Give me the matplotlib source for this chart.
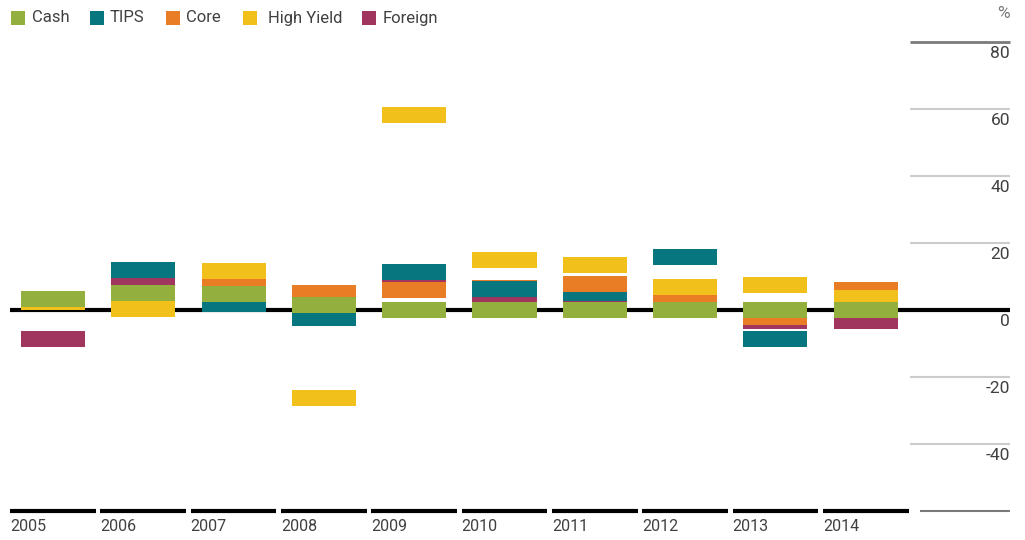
import matplotlib.pyplot as plt
from matplotlib.patches import Rectangle
from matplotlib.transforms import blended_transform_factory

plt.rcParams['font.family'] = ['Roboto', 'DejaVu Sans']

years = ['2005', '2006', '2007', '2008', '2009', '2010', '2011', '2012', '2013', '2014']
series = ['Cash', 'TIPS', 'Core', 'High Yield', 'Foreign']
colors = {'Cash': '#93b03f', 'TIPS': '#08767f', 'Core': '#e87d26',
          'High Yield': '#f2c01b', 'Foreign': '#a0365e'}

# box centres (%)
cash       = [3.3, 5.1, 4.8, 1.5, 0.0, 0.0, 0.0, 0.0, 0.0, 0.0]
tips       = [2.8, 11.9, 1.8, -2.4, 11.3, 6.4, 5.1, 15.8, -8.7, 1.5]
core       = [2.5, 4.2, 8.2, 5.1, 6.0, 6.7, 7.8, 4.8, -2.1, 6.0]
high_yield = [2.4, 0.3, 11.6, -26.3, 58.2, 14.9, 13.4, 6.9, 7.5, 3.6]
foreign    = [-8.7, 8.5, 6.0, 0.6, 6.6, 1.6, 2.4, 2.1, -3.3, -3.3]

# which box sits on top of which, bottom to top, per year
layers = [
    ['Foreign', 'TIPS', 'Core', 'High Yield', 'Cash'],
    ['Core', 'Foreign', 'TIPS', 'Cash', 'High Yield'],
    ['Foreign', 'Core', 'TIPS', 'High Yield', 'Cash'],
    ['Foreign', 'Core', 'TIPS', 'Cash', 'High Yield'],
    ['Foreign', 'TIPS', 'Core', 'Cash', 'High Yield'],
    ['Core', 'Foreign', 'TIPS', 'Cash', 'High Yield'],
    ['Foreign', 'TIPS', 'Core', 'Cash', 'High Yield'],
    ['Foreign', 'Core', 'High Yield', 'Cash', 'TIPS'],
    ['Foreign', 'Core', 'Cash', 'High Yield', 'TIPS'],
    ['TIPS', 'Core', 'Foreign', 'High Yield', 'Cash'],
]

values = {'Cash': cash, 'TIPS': tips, 'Core': core,
          'High Yield': high_yield, 'Foreign': foreign}
yticks = [80, 60, 40, 20, 0, -20, -40]
box_h = 4.8

W, H = 1025, 540
fig = plt.figure(figsize=(W / 100, H / 100), dpi=100)
ax = fig.add_axes([0, 0, 1, 1])
step = 90.3
ax.set_xlim(-53 / step, (W - 53) / step)
ax.set_ylim(-230 / 3.35, 310 / 3.35)
ax.axis('off')

# boxes
for i, order in enumerate(layers):
    for z, name in enumerate(order):
        v = values[name][i]
        ax.bar(i, box_h, bottom=v - box_h / 2, width=0.71,
               color=colors[name], zorder=3 + z, linewidth=0)

trans = blended_transform_factory(ax.transAxes, ax.transData)
x0, x1 = 10 / W, 1010 / W

# zero line
ax.plot([x0, x1], [0, 0], transform=trans, color='black', lw=3,
        solid_capstyle='butt', zorder=2)

# right-hand grid stubs and labels
for t in yticks:
    if t != 0:
        col, lw = ('#7a7a7a', 2) if t == 80 else ('#cccccc', 1.5)
        ax.plot([910 / W, x1], [t, t], transform=trans, color=col, lw=lw,
                solid_capstyle='butt', zorder=1)
    ax.text(x1, t - 1.3, str(t), transform=trans, ha='right', va='top',
            fontsize=12.5, color='#404040')
ax.text(x1, 88.5, '%', transform=trans, ha='right', va='center',
        fontsize=12.5, color='#777777')

# bottom axis segments and year labels
for i, y in enumerate(years):
    ax.plot([i - 0.475, i + 0.475], [-60, -60], color='black', lw=3,
            solid_capstyle='butt', zorder=2)
    ax.text(i - 0.475, -64.7, y, ha='left', va='center', fontsize=11.5,
            color='#404040')
ax.plot([920 / W, x1], [-60, -60], transform=trans, color='#7a7a7a', lw=1.5,
        solid_capstyle='butt')

# legend
sq_x = [11, 90, 166, 243, 362]
tx_x = [32, 110, 186, 268, 383]
for name, sx, tx in zip(series, sq_x, tx_x):
    fig.add_artist(Rectangle((sx / W, 1 - 25 / H), 14 / W, 14 / H,
                             transform=fig.transFigure, color=colors[name],
                             linewidth=0))
    fig.text(tx / W, 1 - 18 / H, name, ha='left', va='center', fontsize=12,
             color='#404040')

fig.savefig('out.png', dpi=100)
